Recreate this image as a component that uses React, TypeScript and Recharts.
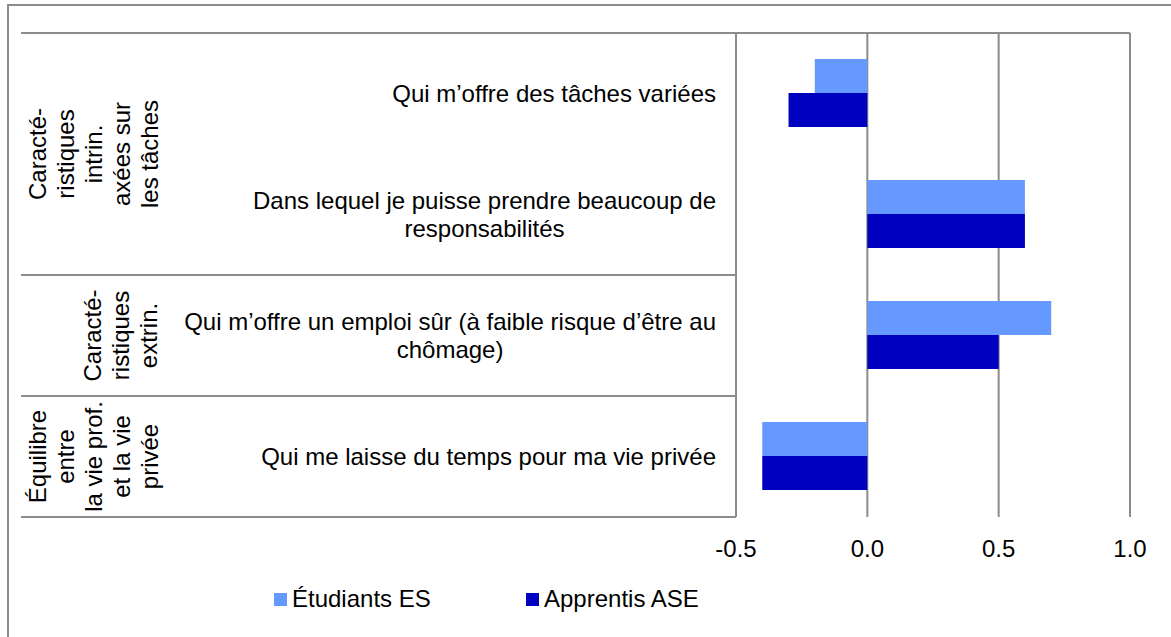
import React from 'react';
import { BarChart, Bar, XAxis, YAxis, CartesianGrid, Legend } from 'recharts';

const categories = [
  'Qui m’offre des tâches variées',
  'Dans lequel je puisse prendre beaucoup de responsabilités',
  'Qui m’offre un emploi sûr (à faible risque d’être au chômage)',
  'Qui me laisse du temps pour ma vie privée',
];
const etudiantsES = [-0.2, 0.6, 0.7, -0.4];
const apprentisASE = [-0.3, 0.6, 0.5, -0.4];
const xTicks = [-0.5, 0, 0.5, 1];
const groupLabels = [
  ['Caracté-', 'ristiques', 'intrin.', 'axées sur', 'les tâches'],
  ['Caracté-', 'ristiques', 'extrin.'],
  ['Équilibre', 'entre', 'la vie prof.', 'et la vie', 'privée'],
];
const groupSizes = [2, 1, 1];

const W = 1171;
const H = 637;
const PLOT_TOP = 33;
const PLOT_BOTTOM = 517;
const PLOT_LEFT = 736;
const PLOT_RIGHT = 1130;
const TABLE_LEFT = 21;
const GROUP_X = [93, 120, 93];
const FONT = '"Liberation Sans", Arial, sans-serif';
const LINE_H = 28;
const GRID = '#8c8c8c';
const LIGHT = '#6699ff';
const DARK = '#0000c0';

const data = categories.map((label, i) => ({ label, es: etudiantsES[i], ase: apprentisASE[i] }));

let ctx: CanvasRenderingContext2D | null = null;
function textWidth(s: string) {
  if (!ctx) ctx = document.createElement('canvas').getContext('2d');
  if (!ctx) return s.length * 12;
  ctx.font = `24px ${FONT}`;
  return ctx.measureText(s).width;
}

function wrap(s: string, max: number) {
  const lines: string[] = [];
  let cur = '';
  for (const w of s.split(' ')) {
    const next = cur ? cur + ' ' + w : w;
    if (cur && textWidth(next) > max) {
      lines.push(cur);
      cur = w;
    } else cur = next;
  }
  if (cur) lines.push(cur);
  return lines;
}

function CategoryTick(props: any) {
  const { x, y, payload } = props;
  const i = categories.indexOf(payload.value);
  const band = (PLOT_BOTTOM - PLOT_TOP) / categories.length;
  const lines = wrap(payload.value, 570);
  const maxW = Math.max(...lines.map(textWidth));
  const cx = x - maxW / 2;

  // which group this row belongs to
  let start = 0;
  let g = 0;
  while (g < groupSizes.length && start + groupSizes[g] <= i) {
    start += groupSizes[g];
    g++;
  }
  const isStart = start === i;
  const isEnd = i === start + groupSizes[g] - 1;
  const gy = y - band / 2 + (groupSizes[g] * band) / 2;
  const gl = groupLabels[g];

  return (
    <g>
      {i === 0 && (
        <line x1={TABLE_LEFT} x2={PLOT_RIGHT} y1={y - band / 2} y2={y - band / 2} stroke={GRID} strokeWidth={2} />
      )}
      {isEnd && (
        <line x1={TABLE_LEFT} x2={PLOT_LEFT} y1={y + band / 2} y2={y + band / 2} stroke={GRID} strokeWidth={2} />
      )}
      {lines.map((ln, j) => (
        <text
          key={j}
          x={cx}
          y={y + (j - (lines.length - 1) / 2) * LINE_H}
          textAnchor="middle"
          dominantBaseline="central"
          fontSize={24}
          fill="#000"
        >
          {ln}
        </text>
      ))}
      {isStart &&
        gl.map((ln, j) => {
          const lx = GROUP_X[g] + (j - (gl.length - 1) / 2) * LINE_H;
          return (
            <text
              key={'g' + j}
              x={lx}
              y={gy}
              transform={`rotate(-90 ${lx} ${gy})`}
              textAnchor="middle"
              dominantBaseline="central"
              fontSize={24}
              fill="#000"
            >
              {ln}
            </text>
          );
        })}
    </g>
  );
}

function LegendContent() {
  const items = [
    { name: 'Étudiants ES', color: LIGHT },
    { name: 'Apprentis ASE', color: DARK },
  ];
  return (
    <div style={{ display: 'flex', fontSize: 24, lineHeight: '28px', color: '#000', fontFamily: FONT }}>
      {items.map((it) => (
        <div key={it.name} style={{ width: 252, display: 'flex', alignItems: 'center' }}>
          <span style={{ display: 'inline-block', width: 13, height: 13, background: it.color, marginRight: 5 }} />
          <span>{it.name}</span>
        </div>
      ))}
    </div>
  );
}

export default function App() {
  return (
    <div
      style={{
        position: 'absolute',
        left: 0,
        top: 0,
        width: W,
        height: H,
        overflow: 'hidden',
        background: '#fff',
        fontFamily: FONT,
      }}
    >
      <div
        style={{
          position: 'absolute',
          left: 7,
          top: 4,
          width: W + 20,
          height: H + 20,
          border: `2px solid ${GRID}`,
        }}
      />
      <BarChart
        width={W}
        height={H}
        data={data}
        layout="vertical"
        margin={{ top: PLOT_TOP, right: W - PLOT_RIGHT, bottom: H - PLOT_BOTTOM - 40, left: 0 }}
        barCategoryGap="21.5%"
        barGap={0}
      >
        <CartesianGrid vertical horizontal={false} stroke={GRID} strokeWidth={2} />
        <XAxis
          type="number"
          domain={[-0.5, 1]}
          ticks={xTicks}
          tickFormatter={(v: number) => v.toFixed(1)}
          axisLine={false}
          tickLine={false}
          tickSize={0}
          tickMargin={23}
          height={40}
          tick={{ fill: '#000', fontSize: 24 }}
        />
        <YAxis
          type="category"
          dataKey="label"
          width={PLOT_LEFT}
          axisLine={false}
          tickLine={false}
          tickSize={0}
          tickMargin={20}
          interval={0}
          tick={<CategoryTick />}
        />
        <Legend
          verticalAlign="middle"
          align="center"
          wrapperStyle={{ left: 274, top: 585, width: 'auto' }}
          content={<LegendContent />}
        />
        <Bar dataKey="es" name="Étudiants ES" fill={LIGHT} isAnimationActive={false} />
        <Bar dataKey="ase" name="Apprentis ASE" fill={DARK} isAnimationActive={false} />
      </BarChart>
    </div>
  );
}
